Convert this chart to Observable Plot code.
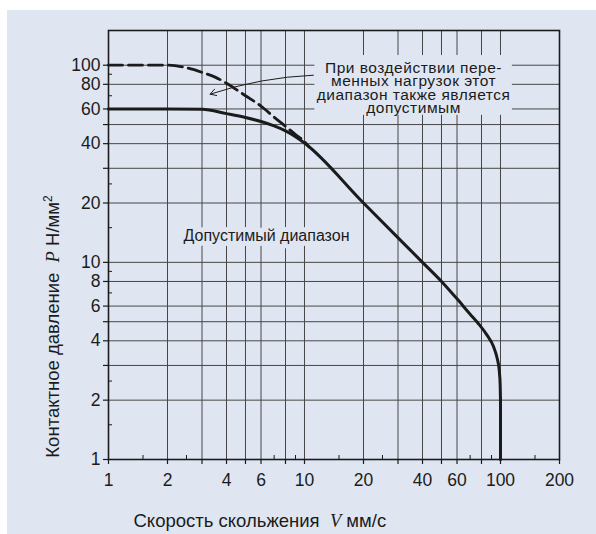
<!DOCTYPE html>
<html><head><meta charset="utf-8">
<script src="https://cdn.jsdelivr.net/npm/d3@7"></script>
<script src="https://cdn.jsdelivr.net/npm/@observablehq/plot@0.6"></script>
<style>
body{margin:0;background:#fff;}
#panel{position:absolute;left:7px;top:10px;width:589px;height:524px;background:#dfe6f2;}
#panel svg{display:block;}
</style></head><body><div id="panel"></div>
<script>
// Solid boundary curve (allowed range); last point closes the vertical drop at V = 100
const solidV = [1, 2, 3, 4, 5, 6, 7, 8, 9, 10, 20, 40, 50, 60, 70, 77, 85, 92, 96, 98.5, 99.6, 100, 100];
const solidP = [60, 60, 59.8, 56.8, 54.3, 51.8, 49.2, 46.4, 43.4, 40.3, 20, 10, 8, 6.53, 5.46, 4.9, 4.3, 3.75, 3.28, 2.84, 2.41, 2.0, 1];
// Dashed curve (variable load range)
const dashV = [1, 2, 2.5, 3, 3.5, 4, 5, 6, 7, 8, 9, 10, 10.5];
const dashP = [100, 100, 97, 92, 87, 81, 70, 62, 54.5, 49, 44.5, 41, 38.6];
// Axes
const xLabels = [1, 2, 4, 6, 10, 20, 40, 60, 100, 200];
const xGrid = [2, 3, 4, 5, 6, 8, 10, 20, 30, 40, 50, 60, 80, 100];
const xMinor = [1.5, 2.5, 7, 9, 15, 25, 70, 90, 150];
const yLabels = [1, 2, 4, 6, 8, 10, 20, 40, 60, 80, 100];
const yGrid = [2, 3, 4, 5, 6, 8, 10, 20, 30, 40, 50, 60, 80, 100];
const yMinor = [1.5, 2.5, 7, 9, 15, 25, 70, 90];
// Texts
const xTitle = "Скорость скольжения V мм/с";
const yTitle = "Контактное давление P Н/мм2";
const mainNote = "Допустимый диапазон";
const noteLines = ["При воздействии пере-", "менных нагрузок этот", "диапазон также является", "допустимым"];

const bg = "#dfe6f2";
const ink = "#1b1b1b";
const solid = solidV.map((v, i) => ({v, p: solidP[i]}));
const solidCurve = solid.slice(0, -1);
const solidDrop = solid.slice(-2);
const dashed = dashV.map((v, i) => ({v, p: dashP[i]}));

const svg = Plot.plot({
  width: 589, height: 524,
  marginLeft: 101, marginRight: 37, marginTop: 20, marginBottom: 75,
  style: {background: "transparent", fontFamily: "'Liberation Sans', Arial, Helvetica, sans-serif", color: ink},
  x: {type: "log", domain: [1, 200]},
  y: {type: "log", domain: [1, 150]},
  marks: [
    Plot.ruleX(xGrid, {stroke: "#464646", strokeWidth: 1}),
    Plot.ruleY(yGrid, {stroke: "#464646", strokeWidth: 1}),
    Plot.rect([{x1: 11.3, x2: 115, y1: 55.7, y2: 112}], {x1: "x1", x2: "x2", y1: "y1", y2: "y2", fill: bg}),
    Plot.text([mainNote], {x: 6.4, y: 13.7, text: d => d, fontSize: 16, fill: ink, stroke: bg, strokeWidth: 10, paintOrder: "stroke", strokeLinejoin: "round"}),
    Plot.text([noteLines.join("\n")], {x: 36, y: 76, text: d => d, fontSize: 15.5, lineHeight: 0.86, fill: ink, className: "note"}),
    Plot.line(dashed, {x: "v", y: "p", curve: "monotone-x", stroke: ink, strokeWidth: 2.8, strokeDasharray: "14,6"}),
    Plot.line(solidCurve, {x: "v", y: "p", curve: "monotone-x", stroke: ink, strokeWidth: 3}),
    Plot.line(solidDrop, {x: "v", y: "p", stroke: ink, strokeWidth: 3}),
    Plot.arrow([{a: 11.1, b: 89, c: 3.3, d: 71.3}], {x1: "a", y1: "b", x2: "c", y2: "d", bend: -8, headLength: 10, stroke: ink, strokeWidth: 1}),
    Plot.frame({stroke: ink, strokeWidth: 1.6}),
    Plot.axisX([...new Set([...xGrid, ...xLabels])], {tickSize: 5, tickFormat: () => "", label: null, strokeWidth: 1.2}),
    Plot.axisX(xMinor, {tickSize: 4, dy: -4, tickFormat: () => "", label: null}),
    Plot.axisY([...new Set([...yGrid, ...yLabels])], {tickSize: 5, tickFormat: () => "", label: null, strokeWidth: 1.2}),
    Plot.axisY(yMinor, {tickSize: 4, dx: 4, tickFormat: () => "", label: null}),
    Plot.text(xLabels, {x: d => d, frameAnchor: "bottom", text: d => String(d), dy: 21, lineAnchor: "middle", fontSize: 17.5, fill: ink}),
    Plot.text(yLabels, {y: d => d, frameAnchor: "left", text: d => String(d), dx: -8, textAnchor: "end", lineAnchor: "middle", fontSize: 17.5, fill: ink}),
    Plot.text([xTitle], {frameAnchor: "bottom-left", text: d => d, dx: 25, dy: 62, textAnchor: "start", lineAnchor: "middle", fontSize: 18.5, fill: ink}),
    Plot.text([yTitle], {frameAnchor: "left", text: d => d, rotate: -90, dx: -55, dy: 81.5, textAnchor: "middle", lineAnchor: "middle", fontSize: 18.5, fill: ink})
  ]
});
document.getElementById("panel").appendChild(svg);

// Rich text: italic serif symbols and superscript
const NS = "http://www.w3.org/2000/svg";
function rebuild(el, parts) {
  el.textContent = "";
  for (const [t, style] of parts) {
    const ts = document.createElementNS(NS, "tspan");
    ts.textContent = t;
    if (style === "it") { ts.setAttribute("font-family", "'Liberation Serif', 'DejaVu Serif', serif"); ts.setAttribute("font-style", "italic"); }
    if (style === "sup") { ts.setAttribute("font-size", "12"); ts.setAttribute("dy", "-7"); }
    el.appendChild(ts);
  }
}
svg.querySelectorAll("text").forEach(el => {
  if (el.textContent === xTitle) rebuild(el, [["Скорость скольжения  ", ""], ["V", "it"], [" мм/с", ""]]);
  if (el.textContent === yTitle) rebuild(el, [["Контактное давление  ", ""], ["P", "it"], [" Н/мм", ""], ["2", "sup"]]);
  if (el.textContent.startsWith("При воздействии")) el.setAttribute("letter-spacing", "0.5");
});
</script>
</body></html>
